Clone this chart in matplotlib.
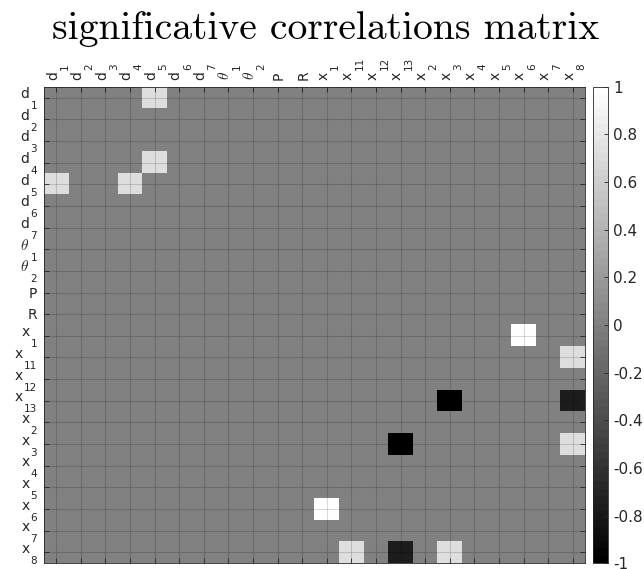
import numpy as np
import matplotlib
matplotlib.use("Agg")
import matplotlib.pyplot as plt
from matplotlib.transforms import ScaledTranslation

# variable names (row/column order of the matrix): (base, subscript)
names = [("d", "1"), ("d", "2"), ("d", "3"), ("d", "4"), ("d", "5"), ("d", "6"), ("d", "7"),
         ("theta", "1"), ("theta", "2"), ("P", ""), ("R", ""),
         ("x", "1"), ("x", "11"), ("x", "12"), ("x", "13"), ("x", "2"), ("x", "3"),
         ("x", "4"), ("x", "5"), ("x", "6"), ("x", "7"), ("x", "8")]

# significative correlations (upper triangle, mirrored below)
pair_a = [0, 3, 11, 12, 14, 14, 16]   # d1, d4, x1, x11, x13, x13, x3
pair_b = [4, 4, 19, 21, 16, 21, 21]   # d5, d5, x6, x8, x3, x8, x8
pair_r = [0.72, 0.72, 1.0, 0.72, -1.0, -0.78, 0.72]

n = len(names)
corr = np.zeros((n, n))
for i, j, r in zip(pair_a, pair_b, pair_r):
    corr[i, j] = r
    corr[j, i] = r

fig = plt.figure(figsize=(6.44, 5.69), dpi=100)
W, H = 644.0, 569.0
ax = fig.add_axes([44 / W, (H - 563.3) / H, 541 / W, 476.6 / H])
cax = fig.add_axes([593.3 / W, (H - 563.3) / H, 14.4 / W, 476.6 / H])

cmap = plt.get_cmap("gray", 64)
im = ax.imshow(corr, cmap=cmap, vmin=-1, vmax=1, aspect="auto", interpolation="nearest")

dark = (0.15, 0.15, 0.15)
ax.set_xticks(range(n))
ax.set_yticks(range(n))
ax.tick_params(axis="both", which="both", direction="in", length=3.5, width=0.6,
               color=dark, top=True, bottom=True, left=True, right=True,
               labeltop=False, labelbottom=False, labelleft=False)
ax.grid(True, color="k", alpha=0.15, linewidth=0.8)
for sp in ax.spines.values():
    sp.set_color(dark)
    sp.set_linewidth(0.6)


# MATLAB-like tick labels: big, low subscripts
def px(dx, dy):
    return ScaledTranslation(dx / 100.0, dy / 100.0, fig.dpi_scale_trans)


renderer = fig.canvas.get_renderer()
FS, FS_SUB = 10, 7.5


def base_text(x, y, b, **kw):
    if b == "theta":
        t = ax.text(x, y, r"$\theta$", fontsize=FS + 1, color=dark, **kw)
        t.set_math_fontfamily("cm")
    else:
        t = ax.text(x, y, b, fontsize=FS, color=dark, **kw)
    return t


yt = ax.get_yaxis_transform()
xt = ax.get_xaxis_transform()
for k, (b, s) in enumerate(names):
    # left labels
    if s:
        sub = ax.text(0, k, s, fontsize=FS_SUB, color=dark, ha="right", va="baseline",
                      transform=yt + px(-7, -11.5))
        ws = sub.get_window_extent(renderer).width
        base_text(0, k, b, ha="right", va="baseline", transform=yt + px(-7 - ws - 1, -0.5))
    else:
        base_text(0, k, b, ha="right", va="baseline", transform=yt + px(-7, -5))
    # top labels (rotated)
    if s:
        bt = base_text(k, 1, b, ha="left", va="baseline", rotation=90,
                       rotation_mode="anchor", transform=xt + px(0.5, 7))
        wb = bt.get_window_extent(renderer).height
        ax.text(k, 1, s, fontsize=FS_SUB, color=dark, ha="left", va="baseline", rotation=90,
                rotation_mode="anchor", transform=xt + px(11.5, 7 + wb + 1))
    else:
        base_text(k, 1, b, ha="left", va="baseline", rotation=90,
                  rotation_mode="anchor", transform=xt + px(5, 7))

cb = fig.colorbar(im, cax=cax)
cb.set_ticks(np.arange(-1, 1.01, 0.2))
cb.set_ticklabels(["-1", "-0.8", "-0.6", "-0.4", "-0.2", "0", "0.2", "0.4", "0.6", "0.8", "1"])
cax.tick_params(direction="in", length=3, width=0.6, color=dark, labelsize=11,
                labelcolor=dark, pad=4)
cb.outline.set_edgecolor(dark)
cb.outline.set_linewidth(0.6)

fig.text(326 / W, 1 - 39 / H, "significative correlations matrix",
         family="cmr10", fontsize=28.5, ha="center", va="baseline")

fig.savefig("out.png", dpi=100)
